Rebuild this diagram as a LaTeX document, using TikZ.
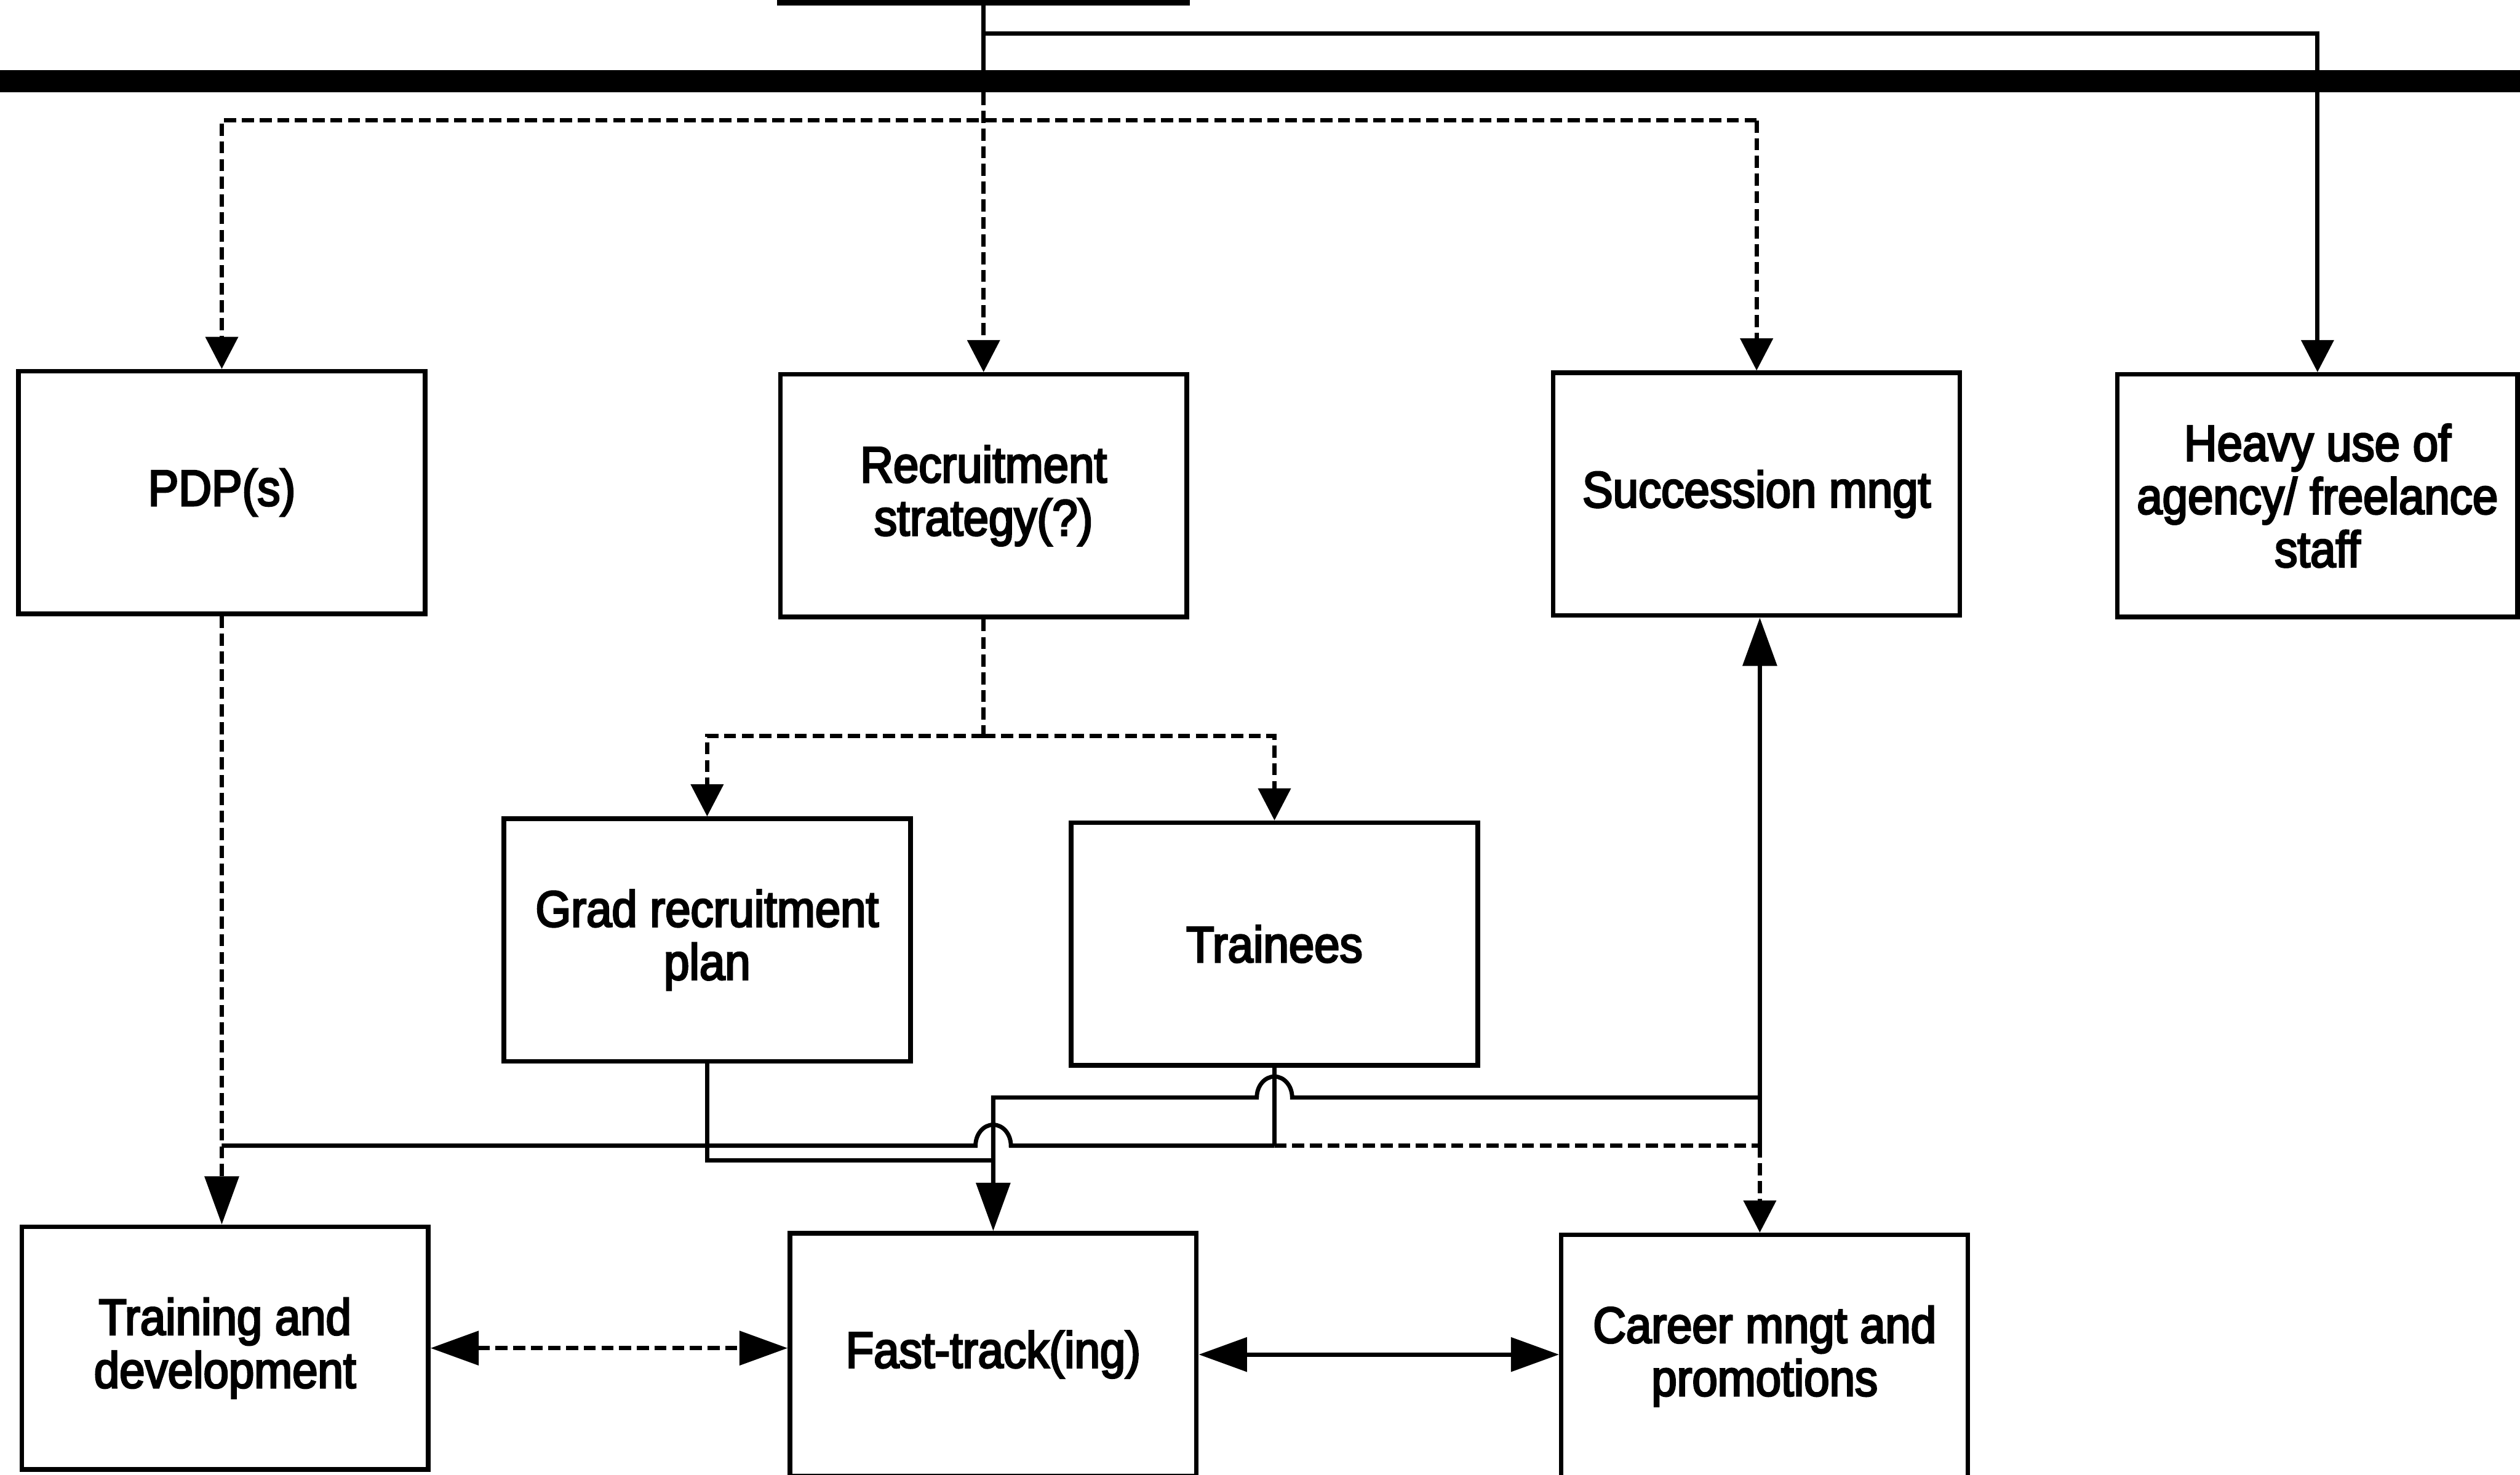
\documentclass[tikz,border=0pt]{standalone}
\usepackage{fontspec}
\newfontfamily\lbl{Liberation Sans}[FakeStretch=0.9,FakeBold=3.5]
\newcommand\lblfont{\lbl\fontsize{9}{9.4}\selectfont}
\usetikzlibrary{arrows.meta,calc}
\begin{document}
\begin{tikzpicture}[x=0.1mm,y=-0.1mm,line width=0.75pt,
  box/.style={draw,line width=0.8pt,minimum width=25.3mm,minimum height=15.1mm,
    inner sep=0pt,align=center,font=\lblfont},
  dsh/.style={dash pattern=on 0.75mm off 0.35mm},
  tipS/.style={-{Triangle[length=2mm,width=2mm]}},
  tipL/.style={-{Triangle[length=3mm,width=2.1mm]}},
  both/.style={{Triangle[length=3mm,width=2.1mm]}-{Triangle[length=3mm,width=2.1mm]}}]
\useasboundingbox (0,0) rectangle (1568,917.7);

% boxes
\node[box,line width=1.1pt] (top) at (612,-74) {};
\node[box] (pdp) at (138,306.5) {PDP(s)};
\node[box] (recr) at (612,308.5) {Recruitment\\strategy(?)};
\node[box] (succ) at (1093,307.5) {Succession mngt};
\node[box,minimum width=24.9mm] (heavy) at (1442,308.5) {Heavy use of\\agency/ freelance\\staff};
\node[box] (grad) at (440,585) {Grad recruitment\\plan};
\node[box] (trainees) at (793,587.5) {Trainees};
\node[box] (train) at (140,839) {Training and\\development};
\node[box] (fast) at (618,843) {Fast-track(ing)};
\node[box] (career) at (1098,844) {Career mngt and\\promotions};

% heavy dividing bar
\draw[line width=1.4mm] (-20,50.5) -- (1590,50.5);

% from the top box
\coordinate (tb) at (612,21);
\coordinate (tc) at (612,58);
\draw (top.south) -- (tc);
\draw[tipS] (tb) -- (tb -| heavy.north) -- (heavy.north);
\draw[dsh,tipS] (tc) -- (recr.north);
\coordinate (hL) at (138,75);
\coordinate (hR) at (1093,75);
\draw[dsh,tipS] (hR) -- (hL) -- (pdp.north);
\draw[dsh,tipS] (hR) -- (succ.north);

% recruitment split
\coordinate (rs) at (612,458);
\draw[dsh] (recr.south) -- (rs);
\draw[dsh,tipS] (rs) -| (grad.north);
\draw[dsh,tipS] (rs) -| (trainees.north);

% PDP to training
\draw[dsh,tipL] (pdp.south) -- (train.north -| pdp.south);

% lower feed line
\coordinate (a0) at (138,713);
\coordinate (a1) at (793,713);
\coordinate (a2) at (1095,713);
\draw (a0) -- (607,713) arc[start angle=180,end angle=0,x radius=1.1mm,y radius=1.3mm] -- (a1);
\draw[dsh] (a1) -- (a2);
\draw[dsh,tipS] (a2) -- (a2 |- career.north);
\draw[tipL] (a2) -- (a2 |- succ.south);

% upper feed line into fast-tracking
\coordinate (b0) at (1095,683);
\coordinate (b1) at (618,683);
\draw[tipL] (b0) -- (804,683) arc[start angle=0,end angle=180,x radius=1.1mm,y radius=1.3mm] -- (b1) -- (fast.north);

\draw (trainees.south) -- (a1);
\coordinate (g1) at (440,722);
\draw (grad.south) -- (g1) -- (b1 |- g1);

% bottom row links
\draw[dsh,both] (train.east) -- (train.east -| fast.west);
\draw[both] (fast.east) -- (fast.east -| career.west);
\end{tikzpicture}
\end{document}
